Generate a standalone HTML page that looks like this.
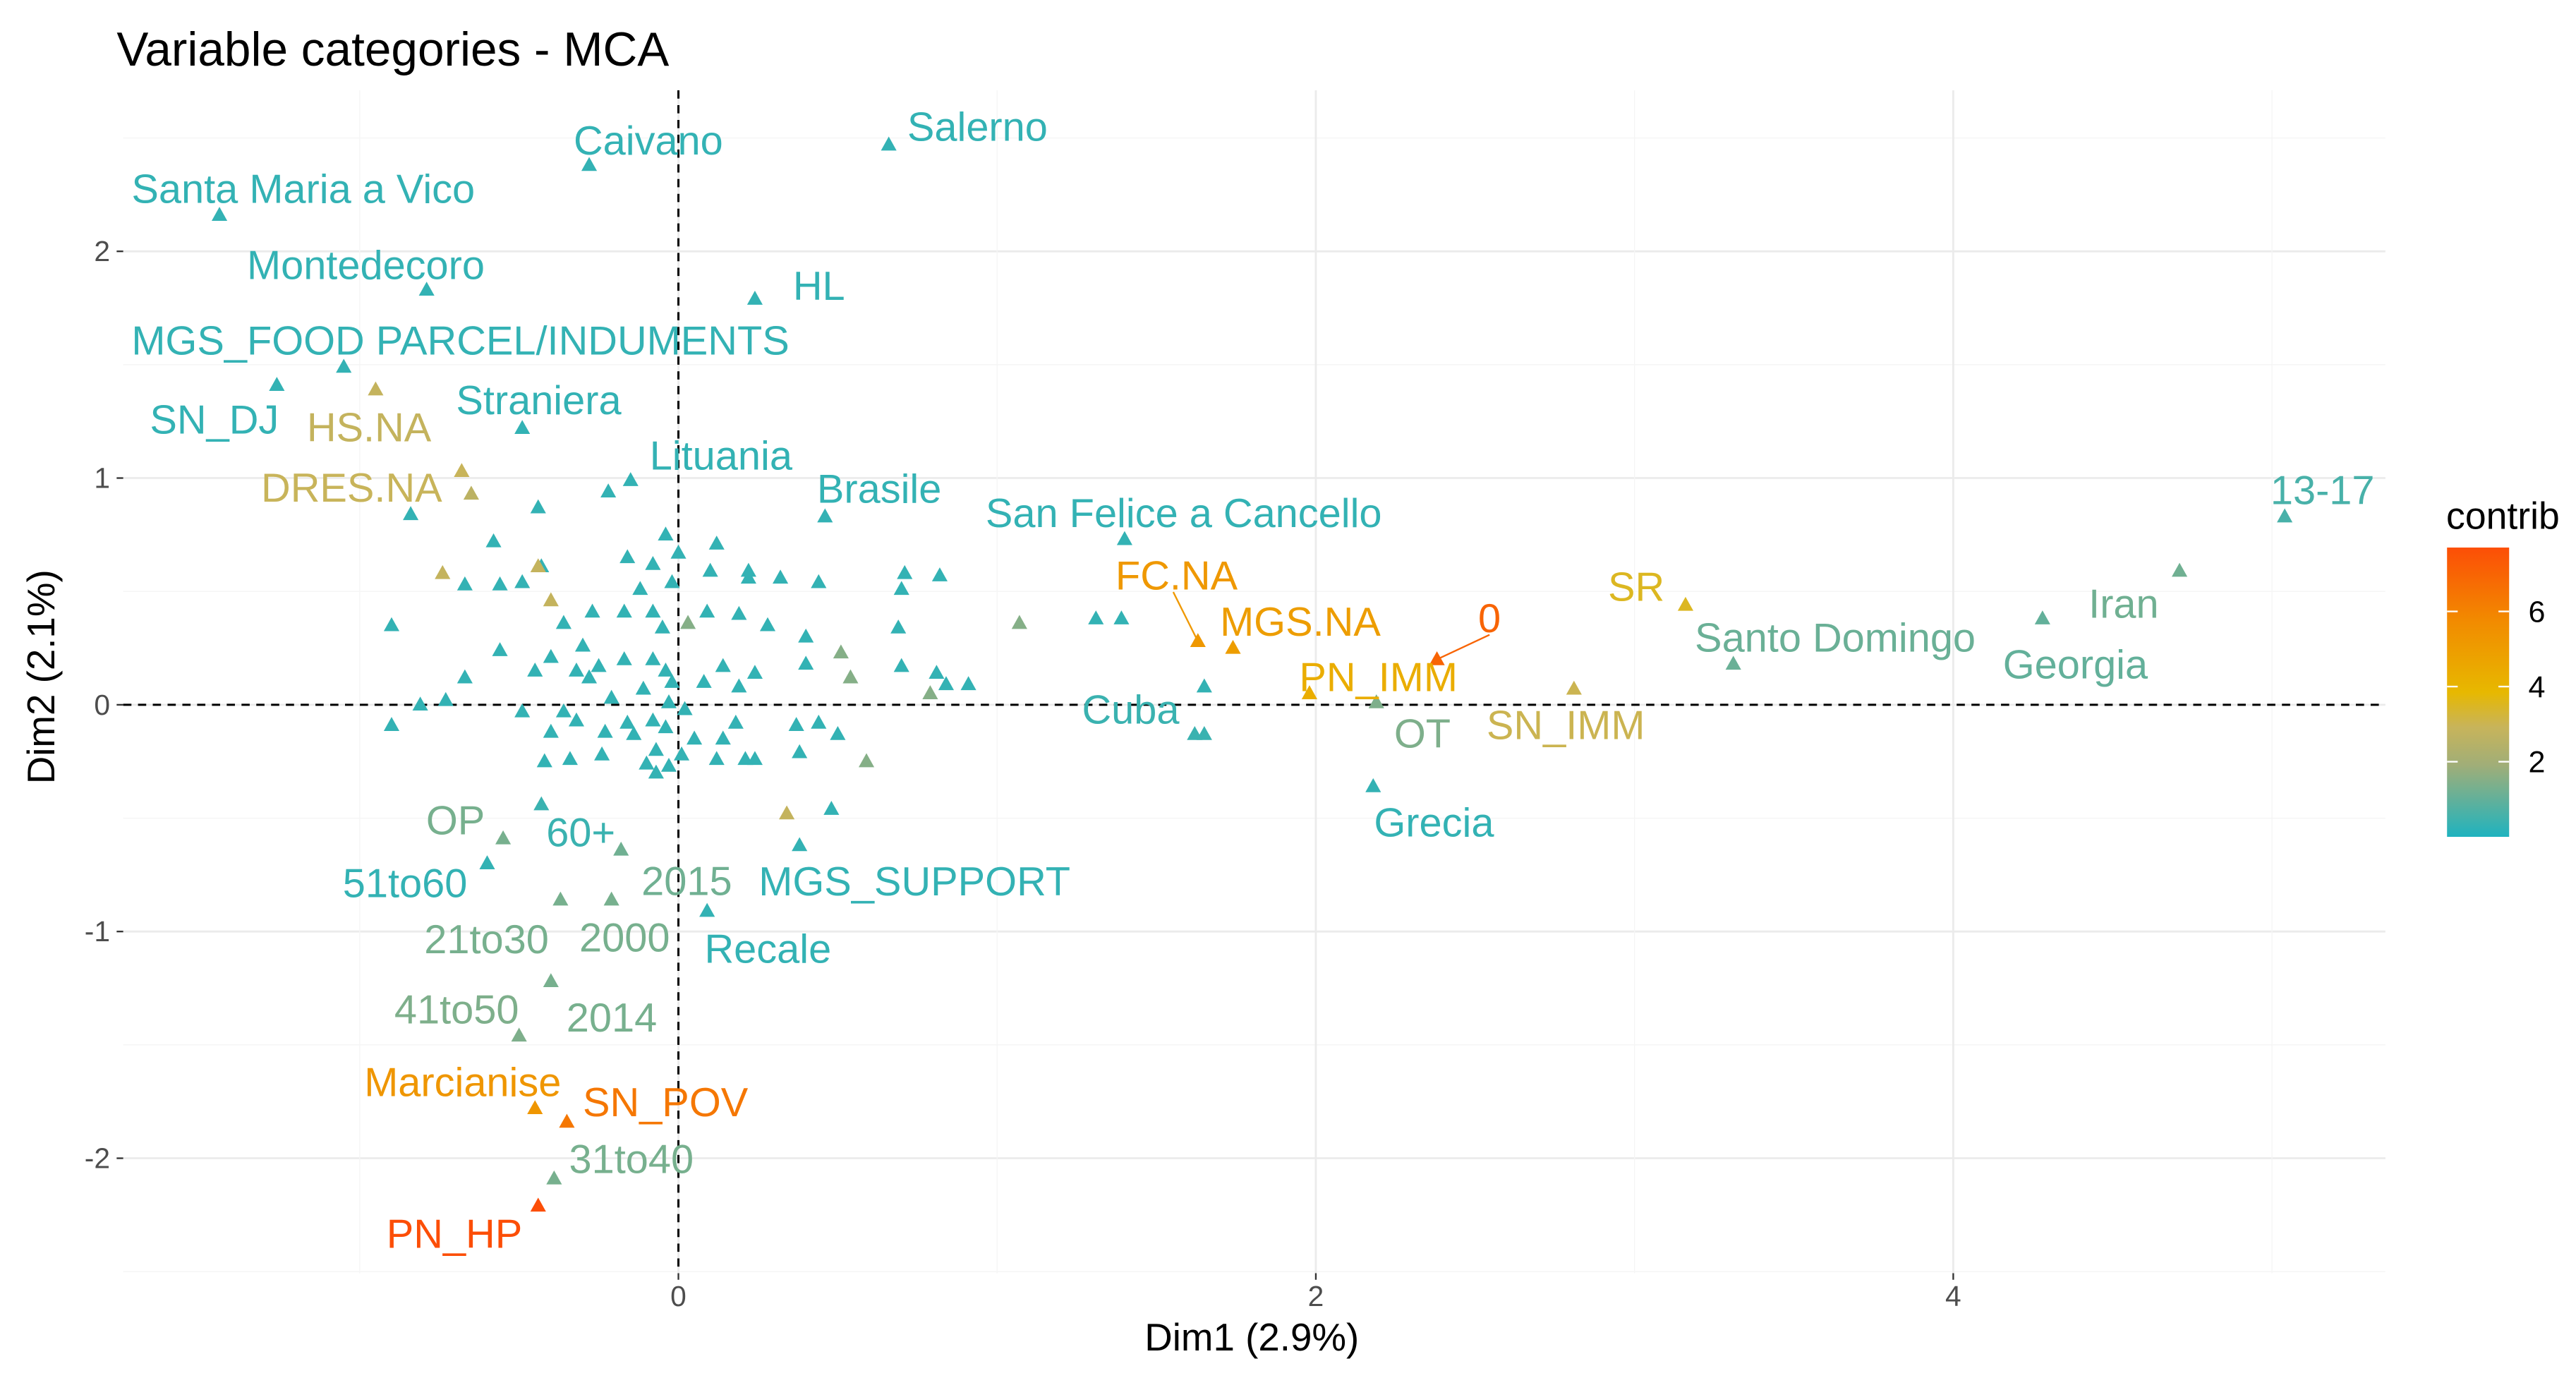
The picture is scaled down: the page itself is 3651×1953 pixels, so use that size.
<!DOCTYPE html>
<html><head><meta charset="utf-8"><style>
html,body{margin:0;padding:0;background:#fff;}
svg{display:block;}
text{font-family:"Liberation Sans",Arial,sans-serif;}
</style></head><body>
<svg id="chart" width="3651" height="1953" viewBox="0 0 1568 838.8" preserveAspectRatio="none" xmlns="http://www.w3.org/2000/svg">
<defs>
<linearGradient id="grad" x1="0" y1="1" x2="0" y2="0">
<stop offset="0" stop-color="#1FB3BF"/><stop offset="0.247" stop-color="#A0AE78"/><stop offset="0.38" stop-color="#C8B45A"/><stop offset="0.5" stop-color="#E7B800"/><stop offset="0.75" stop-color="#F28A00"/><stop offset="1" stop-color="#FC4E07"/>
</linearGradient>
</defs>
<rect width="1568" height="838.8" fill="#fff"/>
<g id="grid"></g>
<g id="marks"></g>
<g id="labels"></g>
<g id="axes"></g>
<text x="71" y="40" font-size="29" fill="#000">Variable categories - MCA</text>
<text x="762" y="822" font-size="23.5" text-anchor="middle" fill="#000">Dim1 (2.9%)</text>
<text x="33" y="412" font-size="23.5" text-anchor="middle" fill="#000" transform="rotate(-90 33 412)">Dim2 (2.1%)</text>
<g>
<text x="1489" y="322" font-size="23" fill="#000">contrib</text>
<rect x="1489.5" y="333.3" width="37.8" height="176.1" fill="url(#grad)"/>
<g id="legendTicks"></g>
</g>
</svg>
<script>
const xTicks=[0,2,4];
const yTicks=[-2,-1,0,1,2];
const legendTicks=[2,4,6];
const dimX=[0.66,-0.28,-1.44,-0.79,0.24,-1.05,-1.26,-0.95,-0.49,-0.15,0.46,-0.68,-0.65,1.40,5.04,4.71,4.28,3.31,3.16,2.81,1.63,1.74,2.38,1.98,2.19,1.62,1.65,2.18,-0.55,-0.43,-0.60,-0.18,0.38,-0.37,-0.21,0.09,-0.50,-0.40,-0.45,-0.35,-0.39,-0.44,
-0.22,-0.44,-0.84,-0.58,-0.04,0.12,-0.43,-0.49,-0.67,-0.56,-0.16,-0.08,0.00,-0.02,0.10,0.22,0.22,0.32,0.44,0.71,0.82,0.70,1.31,1.39,-0.12,-0.17,-0.27,-0.36,-0.30,-0.08,-0.05,0.09,0.19,0.28,0.40,0.69,0.70,0.81,0.91,0.84,1.65,0.40,0.24,0.19,0.08,0.14,-0.02,-0.04,-0.08,-0.17,-0.25,-0.32,-0.40,-0.45,-0.56,-0.67,-0.73,-0.81,-0.90,-0.49,-0.36,-0.28,-0.21,-0.11,-0.03,0.02,-0.04,-0.08,-0.16,-0.23,-0.32,-0.40,-0.14,-0.07,0.01,0.05,0.18,0.14,0.12,0.21,0.24,0.37,0.44,0.38,0.50,-0.34,-0.42,-0.24,-0.10,-0.07,-0.03,0.48,-0.90,
1.07,0.03,0.51,0.54,0.79,0.59,-0.74,-0.44,-0.40,0.34];
const dimY=[2.47,2.38,2.16,1.83,1.79,1.49,1.41,1.39,1.22,0.99,0.83,1.03,0.93,0.73,0.83,0.59,0.38,0.18,0.44,0.07,0.28,0.25,0.20,0.05,0.01,-0.13,-0.13,-0.36,-0.59,-0.44,-0.70,-0.64,-0.62,-0.86,-0.86,-0.91,-1.46,-1.22,-1.78,-1.84,-2.09,-2.21,
0.94,0.87,0.84,0.72,0.75,0.71,0.61,0.54,0.53,0.53,0.65,0.62,0.67,0.54,0.59,0.59,0.56,0.56,0.54,0.58,0.57,0.51,0.38,0.38,0.51,0.41,0.41,0.36,0.26,0.41,0.34,0.41,0.40,0.35,0.30,0.34,0.17,0.14,0.09,0.09,0.08,0.18,0.14,0.08,0.10,0.17,0.10,0.15,0.20,0.20,0.17,0.15,0.21,0.15,0.24,0.12,0.02,0.00,-0.09,-0.03,-0.03,0.12,0.03,0.07,0.01,-0.02,-0.10,-0.07,-0.08,-0.12,-0.07,-0.12,-0.13,-0.20,-0.22,-0.15,-0.08,-0.15,-0.24,-0.24,-0.24,-0.09,-0.08,-0.21,-0.13,-0.24,-0.25,-0.22,-0.26,-0.30,-0.27,-0.46,0.35,
0.36,0.36,0.23,0.12,0.05,-0.25,0.58,0.61,0.46,-0.48];
const contrib=[0.3,0.3,0.3,0.3,0.3,0.3,0.3,2.8,0.3,0.3,0.3,2.9,2.6,0.3,0.6,1.2,1.0,1.1,3.5,3.0,5.2,5.0,7.0,4.3,1.4,0.4,0.4,0.3,1.3,0.4,0.3,1.2,0.3,1.3,1.3,0.3,1.4,1.3,5.3,6.4,1.3,7.7];
const pointLabels=["Salerno","Caivano","Santa Maria a Vico","Montedecoro","HL","MGS_FOOD PARCEL/INDUMENTS","SN_DJ","HS.NA","Straniera","Lituania","Brasile","DRES.NA","","San Felice a Cancello","13-17","Iran","Georgia","Santo Domingo","SR","SN_IMM","FC.NA","MGS.NA","0","PN_IMM","OT","Cuba","","Grecia","OP","60+","51to60","2015","MGS_SUPPORT","21to30","2000","Recale","41to50","2014","Marcianise","SN_POV","31to40","PN_HP"];
const labelDx=[54,36,51,-37,39,71,-38,-4,10,55,33,-67,0,36,23,-34,20,62,-30,-5,-13,41,32,42,28,-39,0,37,-29,24,-50,40,70,-45,8,37,-38,37,-44,60,47,-51];
const labelDy=[-11,-15,-16,-15,-8,-16,21,23,-17,-15,-17,10,0,-16,-16,20,28,-16,-11,22,-40,-16,-25,-10,19,-15,0,22,-11,17,12,19,22,24,23,23,-16,22,-16,-12,-12,17];
for(let i=pointLabels.length;i<dimX.length;i++){contrib.push(i>=dimX.length-10?(i>=dimX.length-4?2.8:1.5):0.3);}

const NS="http://www.w3.org/2000/svg";
const PL=75,PR=1452,PT=55,PB=775;
const xMin=-1.742,xMax=5.356,yMin=-2.507,yMax=2.71;
const sx=v=>PL+(v-xMin)/(xMax-xMin)*(PR-PL);
const sy=v=>PB-(v-yMin)/(yMax-yMin)*(PB-PT);
function mk(tag,attrs,parent){const e=document.createElementNS(NS,tag);for(const k in attrs)e.setAttribute(k,attrs[k]);parent.appendChild(e);return e;}
function hex(c){return [parseInt(c.slice(1,3),16),parseInt(c.slice(3,5),16),parseInt(c.slice(5,7),16)];}
const cStops=[[0,"#1FB3BF"],[1.9,"#A0AE78"],[2.9,"#C8B45A"],[3.85,"#E7B800"],[5.8,"#F28A00"],[7.7,"#FC4E07"]];
function col(v){v=Math.max(0,Math.min(7.7,v));for(let k=0;k<cStops.length-1;k++){const[a0,c0]=cStops[k],[a1,c1]=cStops[k+1];if(v<=a1){const u=(v-a0)/(a1-a0),p=hex(c0),q=hex(c1);return "rgb("+p.map((x,i)=>Math.round(x+(q[i]-x)*u)).join(",")+")";}}return "#FC4E07";}

const grid=document.getElementById('grid');
for(let v=-2.5;v<=2.5;v+=0.5){const y=sy(v);if(y<PT||y>PB)continue;const major=Number.isInteger(v);
const l=mk('line',{x1:PL,x2:PR,y1:y,y2:y,stroke:major?'#EBEBEB':'#F5F5F5','stroke-width':major?1.2:0.6},grid);

}
for(let v=-1;v<=5;v+=1){const x=sx(v);if(x<PL||x>PR)continue;const major=(v%2===0);
const l=mk('line',{x1:x,x2:x,y1:PT,y2:PB,stroke:major?'#EBEBEB':'#F5F5F5','stroke-width':major?1.2:0.6},grid);

}
const h=mk('line',{x1:PL,x2:PR,y1:sy(0),y2:sy(0),stroke:'#000','stroke-width':1.3,'stroke-dasharray':'5,4'},grid);


const vl=mk('line',{x1:sx(0),x2:sx(0),y1:PT,y2:PB,stroke:'#000','stroke-width':1.3,'stroke-dasharray':'5,4'},grid);



const axes=document.getElementById('axes');
xTicks.forEach(v=>{const x=sx(v);
const t=mk('line',{x1:x,x2:x,y1:PB,y2:PB+4,stroke:'#333','stroke-width':1},axes);


const tx=mk('text',{x:x,y:PB+20,'font-size':17.5,'text-anchor':'middle',fill:'#4D4D4D'},axes);tx.textContent=v;

});
yTicks.forEach(v=>{const y=sy(v);
const t=mk('line',{x1:PL-4,x2:PL,y1:y,y2:y,stroke:'#333','stroke-width':1},axes);


const tx=mk('text',{x:PL-8,y:y+6,'font-size':17.5,'text-anchor':'end',fill:'#4D4D4D'},axes);tx.textContent=v;

});

const marks=document.getElementById('marks'),labels=document.getElementById('labels');
for(let i=0;i<dimX.length;i++){const x=sx(dimX[i]),y=sy(dimY[i]),c=col(contrib[i]),s=5;
const p=mk('polygon',{points:`${x},${y-s} ${x-s*0.95},${y+s*0.7} ${x+s*0.95},${y+s*0.7}`,fill:c},marks);


if(i<pointLabels.length&&pointLabels[i]){const lx=x+labelDx[i],ly=y+labelDy[i];
if(pointLabels[i]==="FC.NA"||pointLabels[i]==="0"){const sg=mk('line',{x1:lx+(pointLabels[i]==="0"?0:-2),y1:ly+10,x2:x,y2:y,stroke:c,'stroke-width':1},labels);

}
const t=mk('text',{x:lx,y:ly+8.5,'font-size':24.8,'text-anchor':'middle',fill:c},labels);t.textContent=pointLabels[i];

}}

const lt=document.getElementById('legendTicks');
legendTicks.forEach(v=>{const y=509.4-v/7.7*176.1;
const a=mk('line',{x1:1489.5,x2:1496,y1:y,y2:y,stroke:'#fff','stroke-width':1},lt);


const b=mk('line',{x1:1520.8,x2:1527.3,y1:y,y2:y,stroke:'#fff','stroke-width':1},lt);


const t=mk('text',{x:1539,y:y+6.5,'font-size':18.5,fill:'#000'},lt);t.textContent=v;

});
</script>
</body></html>
